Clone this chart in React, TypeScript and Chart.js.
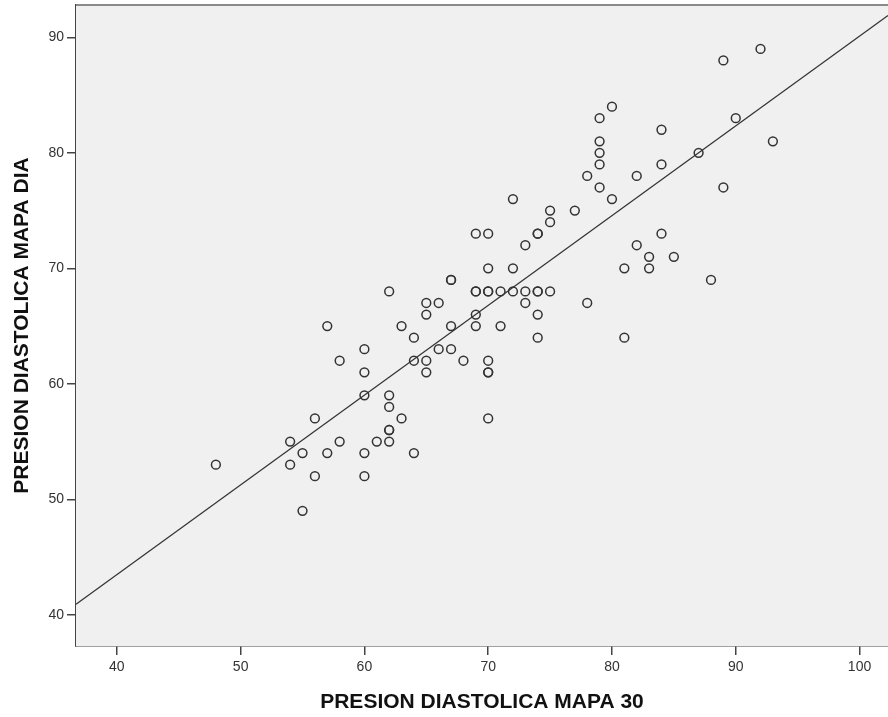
import React, { useEffect, useRef } from "react";
import { Chart, registerables } from "chart.js";

Chart.register(...registerables);

// Observed data: PRESION DIASTOLICA MAPA 30 (x) vs PRESION DIASTOLICA MAPA DIA (y)
const mapa30: number[] = [
  48, 54, 54, 55, 55, 56, 56, 57, 57, 58, 58,
  60, 60, 60, 60, 60, 61, 62, 62, 62, 62, 62, 62,
  63, 63, 64, 64, 64, 65, 65, 65, 65, 66, 66,
  67, 67, 67, 67, 68, 69, 69, 69, 69, 69,
  70, 70, 70, 70, 70, 70, 70, 70, 71, 71,
  72, 72, 72, 73, 73, 73, 74, 74, 74, 74, 74, 74,
  75, 75, 75, 77, 78, 78, 79, 79, 79, 79, 79,
  80, 80, 81, 81, 82, 82, 83, 83, 84, 84, 84, 85,
  87, 88, 89, 89, 90, 92, 93,
];
const mapaDia: number[] = [
  53, 55, 53, 54, 49, 57, 52, 65, 54, 62, 55,
  63, 61, 59, 54, 52, 55, 68, 59, 58, 56, 56, 55,
  65, 57, 64, 62, 54, 67, 66, 62, 61, 67, 63,
  69, 69, 65, 63, 62, 73, 68, 68, 66, 65,
  73, 70, 68, 68, 62, 61, 61, 57, 68, 65,
  76, 70, 68, 72, 68, 67, 73, 73, 68, 68, 66, 64,
  75, 74, 68, 75, 78, 67, 83, 81, 80, 79, 77,
  84, 76, 70, 64, 78, 72, 71, 70, 82, 79, 73, 71,
  80, 69, 88, 77, 83, 89, 81,
];

// Fit line
const fitIntercept = 12.4;
const fitSlope = 0.777;

// Axis ranges and ticks
const xMin = 36.7;
const xMax = 102.3;
const yMin = 37.3;
const yMax = 92.8;
const xTicks: number[] = [40, 50, 60, 70, 80, 90, 100];
const yTicks: number[] = [40, 50, 60, 70, 80, 90];

const xTitle = "PRESION DIASTOLICA MAPA 30";
const yTitle = "PRESION DIASTOLICA MAPA DIA";

const FONT = "'Liberation Sans', Arial, sans-serif";

const plotBg = {
  id: "plotBg",
  beforeDatasetsDraw(chart: any) {
    const { ctx, chartArea } = chart;
    ctx.save();
    ctx.fillStyle = "#f0f0f0";
    ctx.fillRect(chartArea.left, chartArea.top, chartArea.right - chartArea.left, chartArea.bottom - chartArea.top);
    ctx.strokeStyle = "#8a8a8a";
    ctx.lineWidth = 2;
    ctx.beginPath();
    ctx.moveTo(chartArea.left, chartArea.top);
    ctx.lineTo(chartArea.right, chartArea.top);
    ctx.stroke();
    ctx.restore();
  },
};

const zeroPad = (s: any) => {
  s.paddingLeft = 0;
  s.paddingRight = 0;
  s.paddingTop = 0;
  s.paddingBottom = 0;
};

export default function App() {
  const ref = useRef<HTMLCanvasElement | null>(null);

  useEffect(() => {
    if (!ref.current) return;
    const points = mapa30.map((x, i) => ({ x, y: mapaDia[i] }));
    const fitLine = [
      { x: xMin, y: fitIntercept + fitSlope * xMin },
      { x: xMax, y: fitIntercept + fitSlope * xMax },
    ];
    const chart = new Chart(ref.current, {
      type: "scatter",
      data: {
        datasets: [
          {
            type: "line",
            data: fitLine,
            borderColor: "#333333",
            borderWidth: 1.3,
            pointRadius: 0,
            fill: false,
          } as any,
          {
            data: points,
            pointRadius: 4.4,
            pointBorderWidth: 1.5,
            pointBorderColor: "#333333",
            pointBackgroundColor: "rgba(0,0,0,0)",
            pointHoverRadius: 4.4,
          },
        ],
      },
      options: {
        animation: false,
        responsive: false,
        layout: { autoPadding: false, padding: { top: 5, right: 0, left: 0, bottom: 0 } },
        plugins: {
          legend: { display: false },
          tooltip: { enabled: false },
        },
        scales: {
          x: {
            type: "linear",
            min: xMin,
            max: xMax,
            afterBuildTicks: (s: any) => {
              s.ticks = xTicks.map((v) => ({ value: v }));
            },
            afterFit: (s: any) => {
              s.height = 71;
              zeroPad(s);
            },
            ticks: {
              color: "#333333",
              font: { family: FONT, size: 14 },
              padding: 4,
              maxRotation: 0,
              autoSkip: false,
            },
            grid: {
              display: true,
              drawOnChartArea: false,
              drawTicks: true,
              tickLength: 9,
              color: "#444444",
              lineWidth: 1.5,
            },
            border: { display: true, color: "#444444", width: 1.5 },
            title: {
              display: true,
              text: xTitle,
              color: "#111111",
              font: { family: FONT, size: 21, weight: "bold", lineHeight: 1 },
              padding: { top: 0, bottom: 4 },
            },
          },
          y: {
            type: "linear",
            min: yMin,
            max: yMax,
            afterBuildTicks: (s: any) => {
              s.ticks = yTicks.map((v) => ({ value: v }));
            },
            afterFit: (s: any) => {
              s.width = 76;
              zeroPad(s);
            },
            ticks: {
              color: "#333333",
              font: { family: FONT, size: 14 },
              padding: 3,
              autoSkip: false,
            },
            grid: {
              display: true,
              drawOnChartArea: false,
              drawTicks: true,
              tickLength: 9,
              color: "#444444",
              lineWidth: 1.5,
            },
            border: { display: true, color: "#444444", width: 1.5 },
            title: {
              display: true,
              text: yTitle,
              color: "#111111",
              font: { family: FONT, size: 21, weight: "bold", lineHeight: 1 },
              padding: { top: 12, bottom: 0 },
            },
          },
        },
      },
      plugins: [plotBg],
    });
    return () => chart.destroy();
  }, []);

  return (
    <div style={{ position: "fixed", left: 0, top: 0, width: 888, height: 717, background: "#ffffff" }}>
      <canvas ref={ref} width={888} height={717} style={{ display: "block", width: 888, height: 717 }} />
    </div>
  );
}
